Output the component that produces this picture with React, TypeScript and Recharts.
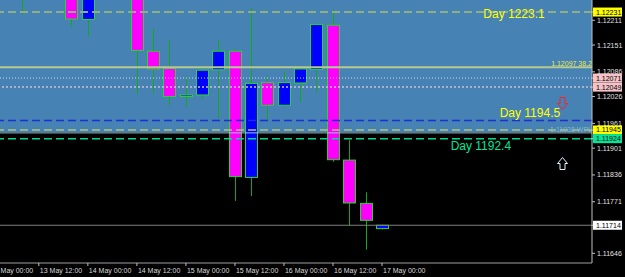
import React from "react";
import {
  ComposedChart,
  Bar,
  XAxis,
  YAxis,
  ReferenceLine,
  ReferenceArea,
  ReferenceDot,
} from "recharts";

// H4 candles, index 0 = 13 May 04:00 ... 22 = 17 May 00:00
const candleIdx = [0, 1, 2, 3, 4, 5, 6, 7, 8, 9, 10, 11, 12, 13, 14, 15, 16, 17, 18, 19, 20, 21, 22];
const opens = [1.1233, 1.1229, 1.1238, 1.12318, 1.12213, 1.1229, 1.1233, 1.123, 1.12136, 1.12094, 1.12027, 1.1203, 1.12091, 1.12136, 1.1183, 1.1206, 1.12005, 1.12059, 1.12092, 1.12199, 1.11872, 1.11767, 1.11706];
const highs = [1.12372, 1.124, 1.1242, 1.12335, 1.1231, 1.1235, 1.1236, 1.1231, 1.12192, 1.12163, 1.12076, 1.12093, 1.12163, 1.12141, 1.1224, 1.12078, 1.12088, 1.12097, 1.12205, 1.12236, 1.1192, 1.11794, 1.11715];
const lows = [1.12225, 1.12275, 1.123, 1.12195, 1.12171, 1.12265, 1.1227, 1.12032, 1.12034, 1.12005, 1.12001, 1.1202, 1.11974, 1.11773, 1.11785, 1.11971, 1.12001, 1.12013, 1.12036, 1.11868, 1.11713, 1.11655, 1.11704];
const closes = [1.1229, 1.1238, 1.1232, 1.12214, 1.1229, 1.1233, 1.123, 1.12138, 1.12093, 1.12026, 1.1203, 1.1209, 1.12136, 1.11832, 1.12058, 1.12005, 1.1206, 1.12093, 1.12201, 1.11873, 1.11768, 1.11726, 1.11714];

const timeTicks = [-2, 1, 4, 7, 10, 13, 16, 19, 22];
const timeLabels = ["13 May 00:00", "13 May 12:00", "14 May 00:00", "14 May 12:00", "15 May 00:00", "15 May 12:00", "16 May 00:00", "16 May 12:00", "17 May 00:00"];

const priceTicks = [1.12211, 1.12151, 1.12086, 1.12026, 1.11961, 1.11901, 1.11836, 1.11771, 1.11646];
const tagPrices = [1.12231, 1.12071, 1.12049, 1.11945, 1.11924, 1.11714];
const tagBg = ["#ffff00", "#f7c3c8", "#f7c3c8", "#ffff00", "#00e69a", "#ffffff"];

const dayHigh = 1.12231;
const dayMid = 1.11945;
const dayLow = 1.11924;
const fibLevel = 1.12097;
const pivotA = 1.12071;
const pivotB = 1.12049;
const blueLevel = 1.11968;
const wplLevel = 1.11938;
const lastPrice = 1.11714;
const zoneBottom = 1.1194;

const yDomain = [1.116225, 1.122602];
const xDomain = [-1.377, 34.85];

const data = candleIdx.map((i, k) => ({
  i,
  o: opens[k],
  h: highs[k],
  l: lows[k],
  c: closes[k],
  range: [lows[k], highs[k]],
}));

const Candle = (props: any) => {
  const { x, y, width, height, payload } = props;
  const top = Math.min(y, y + height);
  const hgt = Math.abs(height);
  const { o, h, l, c } = payload;
  const per = hgt / (h - l);
  const yOf = (p: number) => top + (h - p) * per;
  const cx = Math.round(x + width / 2) + 0.5;
  const up = c >= o;
  const bTop = yOf(Math.max(o, c));
  const bBot = yOf(Math.min(o, c));
  const w = 12;
  return (
    <g>
      <line x1={cx} x2={cx} y1={top} y2={top + hgt} stroke="#16a81c" strokeWidth={1} />
      <rect
        x={cx - w / 2}
        y={bTop}
        width={w}
        height={Math.max(bBot - bTop, 1.5)}
        fill={up ? "#0000ff" : "#ff00ff"}
        stroke="#2ad62a"
        strokeWidth={1}
      />
    </g>
  );
};

const TimeTick = (props: any) => {
  const { x, payload } = props;
  const k = timeTicks.indexOf(payload.value);
  return (
    <text x={x + 1} y={272.5} fontSize={7} fill="#d8d8d8" fontFamily="Liberation Sans" textAnchor="start">
      {timeLabels[k]}
    </text>
  );
};

const PriceTick = (props: any) => {
  const { x, y, payload } = props;
  const v = payload.value;
  const k = tagPrices.indexOf(v);
  if (k >= 0) {
    return (
      <g>
        <rect x={593} y={y - 4.5} width={29} height={9} fill={tagBg[k]} />
        <text x={596} y={y + 2.5} fontSize={7} fill="#000000" fontFamily="Liberation Sans">
          {v.toFixed(5)}
        </text>
      </g>
    );
  }
  return (
    <text x={597} y={y + 2.5} fontSize={7} fill="#e0e0e0" fontFamily="Liberation Sans">
      {v.toFixed(5)}
    </text>
  );
};

const textShape = (txt: string, color: string, size: number, anchor: string = "start") => (p: any) => (
  <text x={p.cx} y={p.cy + size * 0.36} fontSize={size} fill={color} fontFamily="Liberation Sans" textAnchor={anchor}>
    {txt}
  </text>
);

const arrowShape = (dir: "up" | "down", color: string) => (p: any) => {
  const x = Math.round(p.cx) + 0.5;
  const y = Math.round(p.cy) + 0.5;
  const d =
    dir === "down"
      ? `M${x - 2.5},${y - 6} L${x + 2.5},${y - 6} L${x + 2.5},${y} L${x + 5},${y} L${x},${y + 6} L${x - 5},${y} L${x - 2.5},${y} Z`
      : `M${x - 2.5},${y + 6} L${x + 2.5},${y + 6} L${x + 2.5},${y} L${x + 5},${y} L${x},${y - 6} L${x - 5},${y} L${x - 2.5},${y} Z`;
  return <path d={d} fill="none" stroke={color} strokeWidth={1} />;
};

export default function App() {
  return (
    <div style={{ position: "fixed", left: 0, top: 0, width: 625, height: 277, background: "#000000" }}>
      <ComposedChart width={625} height={277} data={data} margin={{ top: 0, right: 0, bottom: 0, left: 0 }}>
        <ReferenceArea y1={zoneBottom} y2={yDomain[1]} fill="#4682b4" fillOpacity={1} stroke="none" ifOverflow="hidden" />
        <ReferenceLine y={dayHigh} stroke="#8fae82" strokeWidth={2} strokeDasharray="8 4" />
        <ReferenceLine y={fibLevel} stroke="#b6c98e" strokeWidth={2} />
        <ReferenceLine y={pivotA} stroke="#d8d0e8" strokeWidth={1} strokeDasharray="1 2" />
        <ReferenceLine y={pivotB} stroke="#c8c0d8" strokeWidth={1.5} strokeDasharray="2 2" />
        <ReferenceLine y={blueLevel} stroke="#1f2fd0" strokeWidth={1.5} strokeDasharray="8 4" />
        <ReferenceLine y={wplLevel} stroke="#9cc4dc" strokeWidth={1} />
        <ReferenceLine y={dayMid} stroke="#b4c27c" strokeWidth={1.5} strokeDasharray="8 4" />
        <ReferenceLine y={dayLow} stroke="#00d890" strokeWidth={1.5} strokeDasharray="8 4" />
        <ReferenceLine y={lastPrice} stroke="#808080" strokeWidth={1} />
        <XAxis
          dataKey="i"
          type="number"
          domain={xDomain}
          allowDataOverflow
          ticks={timeTicks}
          tick={<TimeTick />}
          tickSize={3}
          height={14}
          stroke="#a0a0a0"
          tickLine={{ stroke: "#c0c0c0" }}
          interval={0}
        />
        <YAxis
          orientation="right"
          type="number"
          domain={yDomain}
          allowDataOverflow
          ticks={[...priceTicks, ...tagPrices]}
          tick={<PriceTick />}
          tickSize={3}
          width={33}
          stroke="#c0c0c0"
          tickLine={{ stroke: "#c0c0c0" }}
          interval={0}
        />
        <Bar dataKey="range" barSize={12} shape={<Candle />} isAnimationActive={false} />
        <ReferenceDot x={33.0} y={1.1201} r={0} shape={arrowShape("down", "#ff2020")} />
        <ReferenceDot x={33.0} y={1.11865} r={0} shape={arrowShape("up", "#e0f4ff")} />
        <ReferenceDot x={28.2} y={1.12226} r={0} shape={textShape("Day 1223.1", "#ffff00", 12)} />
        <ReferenceDot x={29.2} y={1.11986} r={0} shape={textShape("Day 1194.5", "#ffff00", 12)} />
        <ReferenceDot x={26.2} y={1.11908} r={0} shape={textShape("Day 1192.4", "#00e69a", 12)} />
        <ReferenceDot x={34.85} y={1.12107} r={0} shape={textShape("1.12097  38.2", "#e8e84a", 7, "end")} />
        <ReferenceDot x={34.85} y={1.11947} r={0} shape={textShape("1.11938  WPL", "#7fb8d0", 7, "end")} />
      </ComposedChart>
    </div>
  );
}
